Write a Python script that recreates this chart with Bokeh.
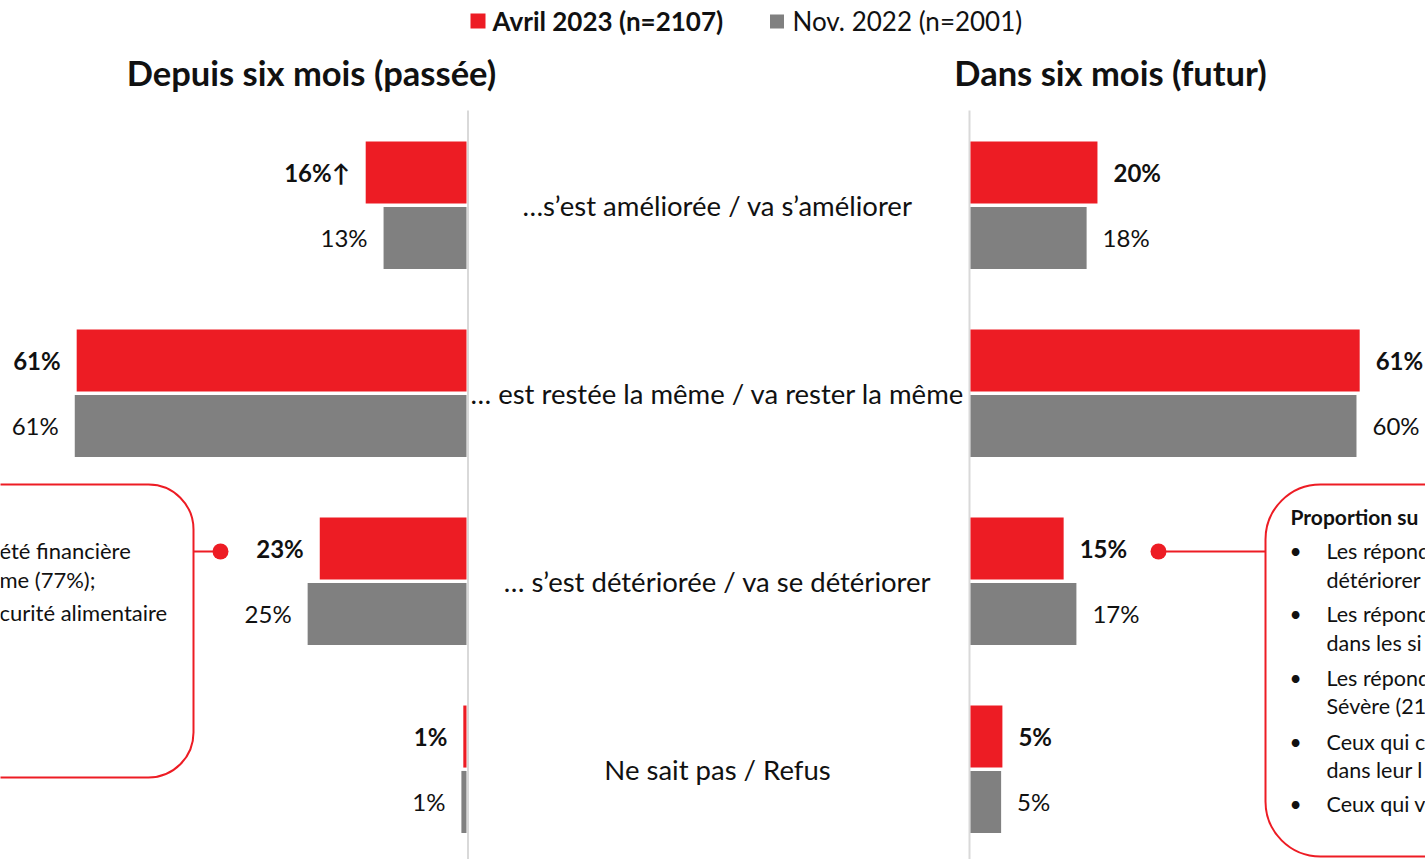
from bokeh.plotting import figure
from bokeh.models import Range1d, BoxAnnotation
from bokeh.core.properties import value
from bokeh.embed import file_html
from bokeh.resources import INLINE

# ---------------- data ----------------
categories = [
    "…s’est améliorée / va s’améliorer",
    "… est restée la même / va rester la même",
    "… s’est détériorée / va se détériorer",
    "Ne sait pas / Refus",
]
series_names = ["Avril 2023 (n=2107)", "Nov. 2022 (n=2001)"]
panel_titles = ["Depuis six mois (passée)", "Dans six mois (futur)"]

past_apr = [15.8, 61.1, 23.0, 0.5]
past_nov = [13.0, 61.4, 24.9, 0.8]
fut_apr = [19.9, 61.0, 14.6, 5.0]
fut_nov = [18.2, 60.5, 16.6, 4.8]

past_apr_lbl = ["16%↑", "61%", "23%", "1%"]
past_nov_lbl = ["13%", "61%", "25%", "1%"]
fut_apr_lbl = ["20%", "61%", "15%", "5%"]
fut_nov_lbl = ["18%", "60%", "17%", "5%"]

left_note = ["été financière", "me (77%);", "curité alimentaire"]
right_note_title = "Proportion su"
right_note = ["Les répond", "détériorer", "Les répond", "dans les si",
              "Les répond", "Sévère (21", "Ceux qui c", "dans leur l", "Ceux qui v"]
right_note_bullet = [True, False, True, False, True, False, True, False, True]

# ---------------- style / layout ----------------
RED = "#ED1C24"
GREY = "#808080"
SEP = "#d9d9d9"
TXT = "#111111"
FONT = value("Lato")

W, H = 1425, 859
K = 6.38          # px per percent
ZL = 466          # zero of left panel (px)
ZR = 970          # zero of right panel (px)
ROW0 = 204.75     # px centre of first row
ROWSTEP = 188.0
OFF = 0.174
BH = 0.33

p = figure(width=W, height=H, x_range=Range1d(0, W), y_range=Range1d(H, 0),
           output_backend="svg", toolbar_location=None, min_border=0,
           x_axis_location=None, y_axis_location=None)
for g in p.grid:
    g.visible = False
p.outline_line_color = None
p.background_fill_color = "white"
p.border_fill_color = "white"

p.extra_x_ranges = {
    "L": Range1d(ZL / K, -(W - ZL) / K),
    "R": Range1d(-ZR / K, (W - ZR) / K),
}
p.extra_y_ranges = {"rows": Range1d((H - ROW0) / ROWSTEP, -ROW0 / ROWSTEP)}

# separator lines
p.segment(x0=[467.5, 969], y0=[110, 110], x1=[467.5, 969], y1=[H, H],
          line_color=SEP, line_width=2)

n = len(categories)
y_red = [i - OFF for i in range(n)]
y_grey = [i + OFF for i in range(n)]

for rng, apr, nov, la, ln, align, off in [
    ("L", past_apr, past_nov, past_apr_lbl, past_nov_lbl, "right", -16),
    ("R", fut_apr, fut_nov, fut_apr_lbl, fut_nov_lbl, "left", 16),
]:
    p.hbar(y=y_red, left=0, right=apr, height=BH, color=RED, line_color=None,
           x_range_name=rng, y_range_name="rows")
    p.hbar(y=y_grey, left=0, right=nov, height=BH, color=GREY, line_color=None,
           x_range_name=rng, y_range_name="rows")
    p.text(x=apr, y=y_red, text=la, x_range_name=rng, y_range_name="rows",
           text_align=align, x_offset=off, text_baseline="middle",
           text_font=FONT, text_font_style="bold", text_font_size="24px",
           text_color=TXT)
    p.text(x=nov, y=y_grey, text=ln, x_range_name=rng, y_range_name="rows",
           text_align=align, x_offset=off, text_baseline="middle",
           text_font=FONT, text_font_size="24px", text_color=TXT)

# category labels
p.text(x=[717] * n, y=list(range(n)), text=categories, y_range_name="rows",
       text_align="center", text_baseline="middle", text_font=FONT,
       text_font_size="27.5px", text_color=TXT)

# titles
p.text(x=[311, 1110], y=[72, 72], text=panel_titles, text_align="center",
       text_baseline="middle", text_font=FONT, text_font_style="bold",
       text_font_size="34.5px", text_color=TXT)

# legend
p.scatter(x=[477.5], y=[20.5], marker="square", size=15, color=RED, line_color=None)
p.scatter(x=[776.5], y=[21], marker="square", size=14, color=GREY, line_color=None)
p.text(x=[492], y=[20], text=[series_names[0]], text_baseline="middle",
       text_font=FONT, text_font_style="bold", text_font_size="26px", text_color=TXT)
p.text(x=[792], y=[20], text=[series_names[1]], text_baseline="middle",
       text_font=FONT, text_font_size="26px", text_color=TXT)

# callout boxes (screen units, y measured from the bottom)
p.add_layout(BoxAnnotation(left=-60, right=193, top=H - 484, bottom=H - 777,
                           left_units="screen", right_units="screen",
                           top_units="screen", bottom_units="screen",
                           fill_color=None, line_color=RED, line_alpha=1.0,
                           line_width=2, border_radius=45))
p.add_layout(BoxAnnotation(left=1265, right=1600, top=H - 484, bottom=H - 856,
                           left_units="screen", right_units="screen",
                           top_units="screen", bottom_units="screen",
                           fill_color=None, line_color=RED, line_alpha=1.0,
                           line_width=2, border_radius=55))
p.segment(x0=[193, 1158], y0=[551, 551], x1=[220, 1265], y1=[551, 551],
          line_color=RED, line_width=2)
p.scatter(x=[220, 1158], y=[551, 551], size=16, color=RED, line_color=None)

# callout texts
p.text(x=[-1] * 3, y=[550, 579, 612], text=left_note, text_baseline="middle",
       text_font=FONT, text_font_size="22px", text_color=TXT)
p.text(x=[1290], y=[516], text=[right_note_title], text_baseline="middle",
       text_font=FONT, text_font_style="bold", text_font_size="21px", text_color=TXT)
ys = [550, 579, 613, 642, 677, 705, 741, 769, 803]
p.text(x=[1326] * len(right_note), y=ys, text=right_note, text_baseline="middle",
       text_font=FONT, text_font_size="21.5px", text_color=TXT)
p.text(x=[1295] * sum(right_note_bullet),
       y=[y for y, b in zip(ys, right_note_bullet) if b],
       text=["•"] * sum(right_note_bullet), text_align="center",
       text_baseline="middle", text_font=FONT, text_font_size="21px", text_color=TXT)

open("out.html", "w").write(file_html(p, INLINE))
